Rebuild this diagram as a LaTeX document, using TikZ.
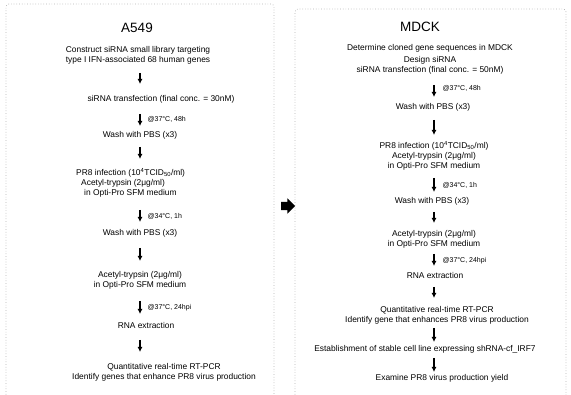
\documentclass[tikz,border=0pt]{standalone}
\usepackage{fontspec}
\setmainfont{Liberation Sans}
\usetikzlibrary{
  arrows.meta
  , shapes.arrows
}

\tikzset{
  panel/.style={draw=gray!60, dotted, line width=0.7pt, rounded corners=3pt},
  title/.style={font=\fontsize{13.5}{15}\selectfont, inner sep=0pt},
  txt/.style={font=\fontsize{8.4}{10}\selectfont, align=center, inner sep=0pt},
  cond/.style={font=\fontsize{7}{8}\selectfont, inner sep=0pt, anchor=west},
  flow/.style 2 args={-{Latex[length=5pt,width=5pt]}, line width=1.1pt,
    shorten <=#1, shorten >=#2},
}

\begin{document}
\begin{tikzpicture}[x=1pt,y=-1pt]
  \useasboundingbox (0,0) rectangle (571,395);

  % panels, open at the bottom
  \draw[panel] (6,400) -- (6,4) -- (274,4) -- (274,400);
  \draw[panel] (295,400) -- (295,9) -- (566,9) -- (566,400);

  % arrow columns
  \coordinate (colA) at (140,0);
  \coordinate (colM) at (434,0);

  % ---- A549 ----
  \node[title] (tA) at (137,28) {A549};
  \node[txt] (a1) at (138,55.5) {Construct siRNA small library targeting\\
    type I IFN-associated 68 human genes};
  \node[txt] (a2) at (161,99) {siRNA transfection (final conc. = 30nM)};
  \node[txt] (a3) at (140,135) {Wash with PBS (x3)};
  \node[txt, align=left, anchor=west] (a4) at (76,182.5)
    {PR8 infection (10\textsuperscript{4}TCID\textsubscript{50}/ml)\\
    \hspace*{5pt}Acetyl-trypsin (2μg/ml)\\ \hspace*{8pt}in Opti-Pro SFM medium};
  \node[txt] (a5) at (140,233) {Wash with PBS (x3)};
  \node[txt] (a6) at (140,280) {Acetyl-trypsin (2μg/ml)\\ in Opti-Pro SFM medium};
  \node[txt] (a7) at (146,325) {RNA extraction};
  \node[txt] (a8) at (164,372) {Quantitative real-time RT-PCR\\
    Identify genes that enhance PR8 virus production};

  \draw[flow={17.5pt}{15pt}] (a1 -| colA) -- (a2 -| colA);
  \draw[flow={15pt}{9pt}] (a2 -| colA) -- node[cond, pos=0.56, xshift=7pt]{@37°C, 48h} (a3 -| colA);
  \draw[flow={12pt}{23.5pt}] (a3 -| colA) -- (a4 -| colA);
  \draw[flow={27.5pt}{11pt}] (a4 -| colA) -- node[cond, pos=0.68, xshift=7pt]{@34°C, 1h} (a5 -| colA);
  \draw[flow={15pt}{19pt}] (a5 -| colA) -- (a6 -| colA);
  \draw[flow={21pt}{11pt}] (a6 -| colA) -- node[cond, pos=0.62, xshift=7pt]{@37°C, 24hpi} (a7 -| colA);
  \draw[flow={15pt}{20pt}] (a7 -| colA) -- (a8 -| colA);

  % ---- MDCK ----
  \node[title] (tM) at (420,27) {MDCK};
  \node[txt] (b1) at (430,59.5) {Determine cloned gene sequences in MDCK\\[2.5pt]
    Design siRNA\\ siRNA transfection (final conc. = 50nM)};
  \node[txt] (b2) at (433,107) {Wash with PBS (x3)};
  \node[txt] (b3) at (434,155.5) {PR8 infection (10\textsuperscript{4}TCID\textsubscript{50}/ml)\\
    Acetyl-trypsin (2μg/ml)\\ in Opti-Pro SFM medium};
  \node[txt] (b4) at (432,201) {Wash with PBS (x3)};
  \node[txt] (b5) at (434,239.5) {Acetyl-trypsin (2μg/ml)\\ in Opti-Pro SFM medium};
  \node[txt] (b6) at (435,275) {RNA extraction};
  \node[txt] (b7) at (437,315.5) {Quantitative real-time RT-PCR\\
    Identify gene that enhances PR8 virus production};
  \node[txt] (b8) at (425,349) {Establishment of stable cell line expressing shRNA-cf\_IRF7};
  \node[txt] (b9) at (442,378) {Examine PR8 virus production yield};

  \draw[flow={25.5pt}{10pt}] (b1 -| colM) -- node[cond, pos=0.62, xshift=8pt]{@37°C, 48h} (b2 -| colM);
  \draw[flow={13pt}{20.5pt}] (b2 -| colM) -- (b3 -| colM);
  \draw[flow={22.5pt}{9pt}] (b3 -| colM) -- node[cond, pos=0.65, xshift=8pt]{@34°C, 1h} (b4 -| colM);
  \draw[flow={11pt}{16.5pt}] (b4 -| colM) -- (b5 -| colM);
  \draw[flow={14.5pt}{9pt}] (b5 -| colM) -- node[cond, pos=0.61, xshift=8pt]{@37°C, 24hpi} (b6 -| colM);
  \draw[flow={12pt}{17.5pt}] (b6 -| colM) -- (b7 -| colM);
  \draw[flow={12.5pt}{7pt}] (b7 -| colM) -- (b8 -| colM);
  \draw[flow={9pt}{6pt}] (b8 -| colM) -- (b9 -| colM);

  % link between the panels
  \node[single arrow, fill=black, inner xsep=0pt, inner ysep=4pt, minimum height=14pt,
    single arrow head extend=3.5pt] (go) at (286,206) {};
\end{tikzpicture}
\end{document}
